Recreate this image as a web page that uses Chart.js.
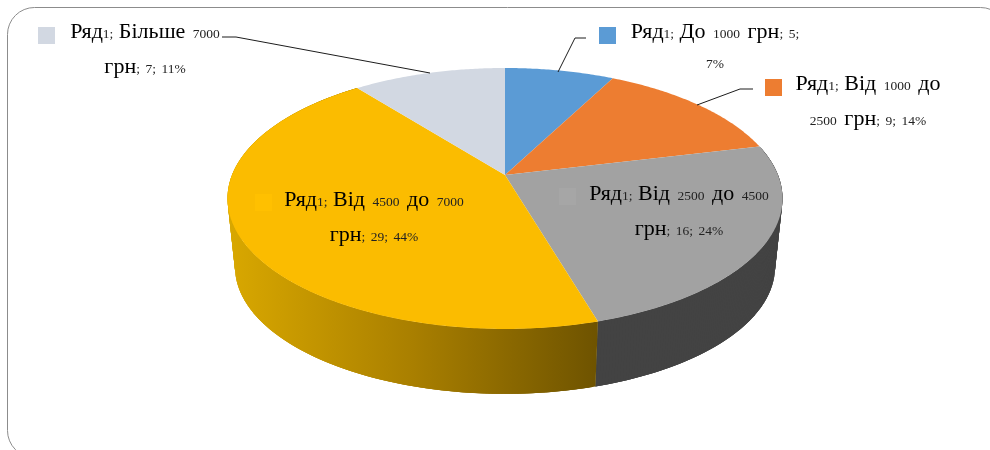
<!DOCTYPE html>
<html lang="uk">
<head>
<meta charset="utf-8">
<style>html,body{margin:0;padding:0;background:#fff}canvas{display:block}</style>
<script src="https://cdn.jsdelivr.net/npm/chart.js@4"></script>
</head>
<body>
<canvas id="c" width="990" height="450"></canvas>
<script>
const seriesName = 'Ряд1';
const categories = ['До 1000 грн', 'Від 1000 до 2500 грн', 'Від 2500 до 4500 грн', 'Від 4500 до 7000 грн', 'Більше 7000 грн'];
const values = [5, 9, 16, 29, 7];
const percents = [7, 14, 24, 44, 11];

const sliceColors = ['#5B9BD5', '#ED7D31', '#A2A2A2', '#FBBC00', '#D2D8E2'];
const swatchColors = ['#5B9BD5', '#ED7D31', '#A6A6A6', '#FFC000', '#D2D8E2'];

// label placement: words on first line, centre x, two baselines, swatch box, leader polyline
const labelLayout = [
  {brk:5, cx:715, y:[38,68],   sw:[599,27], leader:[[586,38],[575,38],[558,72]]},
  {brk:4, cx:868, y:[90,125],  sw:[765,79], leader:[[753,89],[740,89],[697,105]]},
  {brk:5, cx:679, y:[200,235], sw:[559,188]},
  {brk:5, cx:374, y:[206,241], sw:[255,194]},
  {brk:3, cx:145, y:[38,73],   sw:[38,27],  leader:[[222,37],[236,37],[430,73]]}
];

// perspective of the tilted disc, relative to the library's pie radius
const persp = {ax:2.551, by:1.18, k:0.18, lowScale:0.973, lowDy:69};

function project(el, angle, low) {
  const R = el.outerRadius, u = Math.cos(angle), v = Math.sin(angle);
  const w = 1 - persp.k * v, s = low ? persp.lowScale : 1;
  return {
    x: el.x + R * persp.ax * s * u / w,
    y: el.y + (low ? persp.lowDy : 0) + R * persp.by * s * v / w
  };
}
function trace(ctx, el, a0, a1, low, first) {
  const n = Math.max(2, Math.ceil(Math.abs(a1 - a0) / 0.01));
  for (let i = 0; i <= n; i++) {
    const p = project(el, a0 + (a1 - a0) * i / n, low);
    if (i === 0 && first) ctx.moveTo(p.x, p.y); else ctx.lineTo(p.x, p.y);
  }
}
function wallFill(ctx, i) {
  if (i === 3) {
    const g = ctx.createLinearGradient(228, 0, 598, 0);
    g.addColorStop(0, '#D9A800');
    g.addColorStop(0.5, '#A97F00');
    g.addColorStop(1, '#6E5300');
    return g;
  }
  return '#434343';
}
const LETTER = /[А-Яа-яІіЇїЄєA-Za-z]/;
function drawRuns(ctx, line, cx, y) {
  const runs = line.match(/[А-Яа-яІіЇїЄєA-Za-z]+|\s+|[^А-Яа-яІіЇїЄєA-Za-z\s]+/g);
  const big = '22px "Liberation Serif"', small = '13.5px "Liberation Serif"';
  const spaceW = (i) => {
    const prev = runs[i - 1] || '', next = runs[i + 1] || '';
    if (LETTER.test(prev)) return 7.5;
    if (LETTER.test(next)) return prev.endsWith(';') ? 5.5 : 7.5;
    return 5.5;
  };
  const w = (r, i) => {
    if (/^\s+$/.test(r)) return spaceW(i);
    ctx.font = LETTER.test(r) ? big : small;
    return ctx.measureText(r).width;
  };
  let total = 0;
  runs.forEach((r, i) => { total += w(r, i); });
  let x = cx - total / 2;
  ctx.textAlign = 'left'; ctx.textBaseline = 'alphabetic';
  runs.forEach((r, i) => {
    const rw = w(r, i);
    if (!/^\s+$/.test(r)) {
      ctx.font = LETTER.test(r) ? big : small;
      ctx.fillStyle = LETTER.test(r) ? '#000' : '#222';
      ctx.fillText(r, x, y);
    }
    x += rw;
  });
}

const pie3d = {
  id: 'pie3d',
  beforeDraw(chart) {
    const ctx = chart.ctx;
    ctx.save();
    ctx.strokeStyle = '#8c8c8c'; ctx.lineWidth = 1;
    ctx.beginPath();
    ctx.roundRect(7.5, 7.5, 1000, 450, 27);
    ctx.stroke();
    ctx.restore();
  },
  beforeDatasetDraw() { return false; },
  afterDatasetsDraw(chart) {
    const ctx = chart.ctx, arcs = chart.getDatasetMeta(0).data;
    ctx.save();
    // side walls: overlapping quads so the outline follows the tangent between rims
    arcs.forEach((el, i) => {
      if (i !== 2 && i !== 3) return;
      ctx.fillStyle = wallFill(ctx, i);
      const step = 0.01;
      for (let a = el.startAngle; a < el.endAngle; a += step) {
        const b = Math.min(a + step * 3, el.endAngle);
        const p0 = project(el, a, false), p1 = project(el, b, false);
        const q0 = project(el, a, true), q1 = project(el, b, true);
        ctx.beginPath();
        ctx.moveTo(p0.x, p0.y); ctx.lineTo(p1.x, p1.y);
        ctx.lineTo(q1.x, q1.y); ctx.lineTo(q0.x, q0.y);
        ctx.closePath();
        ctx.fill();
      }
    });
    // top faces
    arcs.forEach(el => {
      ctx.beginPath();
      ctx.moveTo(el.x, el.y);
      trace(ctx, el, el.startAngle, el.endAngle, false, false);
      ctx.closePath();
      ctx.fillStyle = el.options.backgroundColor;
      ctx.fill();
    });
    // leaders
    labelLayout.forEach(l => {
      if (!l.leader) return;
      ctx.strokeStyle = '#1c1c1c'; ctx.lineWidth = 1;
      ctx.beginPath();
      l.leader.forEach((p, j) => j ? ctx.lineTo(p[0], p[1]) : ctx.moveTo(p[0], p[1]));
      ctx.stroke();
    });
    // labels
    categories.forEach((cat, i) => {
      const l = labelLayout[i];
      ctx.fillStyle = swatchColors[i];
      ctx.fillRect(l.sw[0], l.sw[1], 17, 17);
      const words = `${seriesName}; ${cat}; ${values[i]}; ${percents[i]}%`.split(' ');
      drawRuns(ctx, words.slice(0, l.brk).join(' '), l.cx, l.y[0]);
      drawRuns(ctx, words.slice(l.brk).join(' '), l.cx, l.y[1]);
    });
    ctx.restore();
  }
};

new Chart(document.getElementById('c'), {
  type: 'pie',
  data: {
    labels: categories,
    datasets: [{ label: seriesName, data: values, backgroundColor: sliceColors, borderWidth: 0 }]
  },
  options: {
    responsive: false,
    animation: false,
    events: [],
    layout: { padding: { left: 398, right: 378, top: 68, bottom: 168 } },
    plugins: { legend: { display: false }, tooltip: { enabled: false }, title: { display: false } }
  },
  plugins: [pie3d]
});
</script>
</body>
</html>
